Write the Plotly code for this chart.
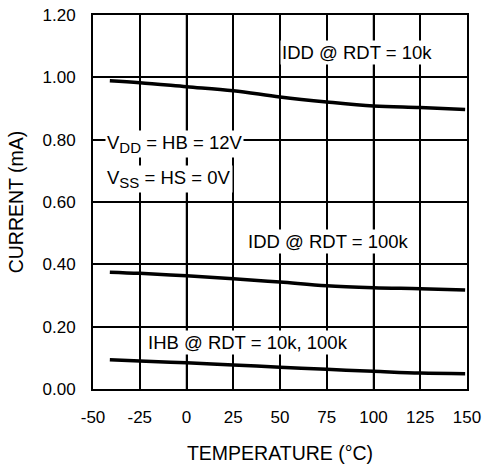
import plotly.graph_objects as go

temp = [-41, -25, 0, 25, 50, 75, 100, 125, 149]
idd_10k = [0.989, 0.983, 0.970, 0.957, 0.937, 0.921, 0.908, 0.903, 0.897]
idd_100k = [0.375, 0.371, 0.363, 0.354, 0.343, 0.331, 0.325, 0.322, 0.318]
ihb = [0.094, 0.090, 0.084, 0.077, 0.070, 0.063, 0.057, 0.051, 0.049]

x_ticks = [-50, -25, 0, 25, 50, 75, 100, 125, 150]
x_labels = ["-50", "-25", "0", "25", "50", "75", "100", "125", "150"]
y_ticks = [0.0, 0.2, 0.4, 0.6, 0.8, 1.0, 1.2]
y_labels = ["0.00", "0.20", "0.40", "0.60", "0.80", "1.00", "1.20"]

FONT = "Liberation Sans, Arial, sans-serif"

fig = go.Figure()

# thin filled strips as vertical grid lines (placed at x tick values)
for xv in x_ticks[1:-1]:
    fig.add_shape(type="rect", xref="x", yref="paper", x0=xv - 0.4, x1=xv + 0.4,
                  y0=0, y1=1, fillcolor="black", line=dict(width=0), layer="below")

for ys in (idd_10k, idd_100k, ihb):
    fig.add_trace(go.Scatter(x=temp, y=ys, mode="lines",
                             line=dict(color="black", width=3.5, shape="spline"),
                             showlegend=False, hoverinfo="skip"))

SUB = '<sub><span style="font-size:15px">{}</span></sub>'
ann = [
    dict(x=91, y=1.081, text="IDD @ RDT = 10k", xanchor="center"),
    dict(x=75.7, y=0.472, text="IDD @ RDT = 100k", xanchor="center"),
    dict(x=33, y=0.148, text="IHB @ RDT = 10k, 100k", xanchor="center"),
    dict(x=-43.8, y=0.787, text="V" + SUB.format("DD") + " = HB = 12V", xanchor="left"),
    dict(x=-43.8, y=0.675, text="V" + SUB.format("SS") + " = HS = 0V", xanchor="left"),
]
for a in ann:
    fig.add_annotation(xref="x", yref="y", showarrow=False, yanchor="middle",
                       bgcolor="white", borderpad=1,
                       font=dict(family=FONT, size=18.5, color="black"), **a)

fig.update_layout(
    width=489, height=467,
    margin=dict(l=93, r=22, t=15, b=78),
    paper_bgcolor="white", plot_bgcolor="white",
    font=dict(family=FONT, size=17, color="black"),
    xaxis=dict(range=[-50, 150], tickvals=x_ticks, ticktext=x_labels,
               showgrid=True, gridcolor="black", gridwidth=1.5,
               showline=True, linecolor="black", linewidth=2, mirror=True,
               zeroline=False, ticks="outside", ticklen=12, tickcolor="white",
               automargin=False,
               title=dict(text="TEMPERATURE (°C)", standoff=20,
                          font=dict(family=FONT, size=19.5, color="black"))),
    yaxis=dict(range=[0, 1.2], tickvals=y_ticks, ticktext=y_labels,
               showgrid=True, gridcolor="black", gridwidth=1.5,
               showline=True, linecolor="black", linewidth=2, mirror=True,
               zeroline=False, ticks="outside", ticklen=12, tickcolor="white",
               automargin=False,
               title=dict(text="CURRENT (mA)", standoff=14,
                          font=dict(family=FONT, size=19.5, color="black"))),
)

fig.write_html("out.html")
